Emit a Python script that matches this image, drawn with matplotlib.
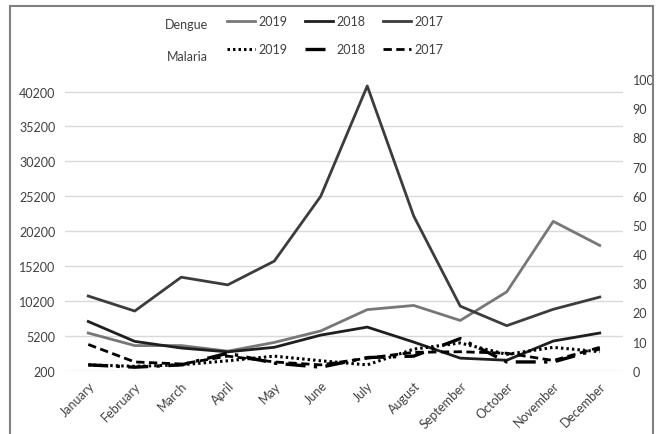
import numpy as np
import matplotlib.pyplot as plt
from matplotlib.lines import Line2D
from matplotlib.patches import Rectangle

plt.rcParams['font.family'] = ['Lato', 'DejaVu Sans']

# data
months = ['January', 'February', 'March', 'April', 'May', 'June', 'July',
          'August', 'September', 'October', 'November', 'December']
dengue_2019 = [5600, 3800, 3800, 3000, 4250, 5900, 8950, 9550, 7400, 11500, 21600, 18150]
dengue_2018 = [7250, 4400, 3450, 2900, 3550, 5300, 6450, 4300, 2000, 1700, 4450, 5600]
dengue_2017 = [10900, 8750, 13600, 12500, 15900, 25200, 41000, 22350, 9450, 6650, 9000, 10750]
malaria_2019 = [2, 1.5, 2, 3.4, 5, 3.4, 2, 7.4, 9.5, 5.6, 8, 6.5]
malaria_2018 = [2, 1.2, 2, 6, 2.6, 1.2, 4.5, 5, 11, 3, 3, 7.5]
malaria_2017 = [9, 3, 2.3, 5, 3, 2, 4.3, 6.3, 6.5, 6, 3.5, 8]
left_ticks = [200, 5200, 10200, 15200, 20200, 25200, 30200, 35200, 40200]
right_ticks = [0, 10, 20, 30, 40, 50, 60, 70, 80, 90, 100]

W, H = 660, 435
text_col = '#404040'
c19, c18, c17 = '#777777', '#1e1e1e', '#3c3c3c'
dot = (0, (0.8, 1.0))
dashdot = (0, (6, 2.5, 1, 2.5))
dash = (0, (3, 1.6))
fs = 9


def fx(x):
    return x / W


def fy(y):
    return 1 - y / H


fig = plt.figure(figsize=(W / 100, H / 100), dpi=100)
ax = fig.add_axes([fx(65), fy(371.7), fx(623) - fx(65), fy(80) - fy(371.7)])
ax2 = ax.twinx()

x = np.arange(len(months))
ax.plot(x, dengue_2019, color=c19, lw=2)
ax.plot(x, dengue_2018, color=c18, lw=2)
ax.plot(x, dengue_2017, color=c17, lw=2)
ax2.plot(x, malaria_2019, color='black', lw=2.2, ls=dot)
ax2.plot(x, malaria_2018, color='black', lw=2.4, ls=dashdot)
ax2.plot(x, malaria_2017, color='black', lw=2, ls=dash)

ax.set_xlim(-0.5, len(months) - 0.5)
ax.set_ylim(200, 42000)
ax2.set_ylim(0, 100)
ax.set_yticks(left_ticks)
ax.set_yticklabels([str(t) for t in left_ticks])
ax2.set_yticks(right_ticks)
ax.set_xticks(x)
ax.set_xticklabels(months, rotation=45, ha='right', rotation_mode='anchor')

ax.grid(axis='y', color='#d9d9d9', lw=1)
ax.set_axisbelow(True)
for a in (ax, ax2):
    for s in a.spines.values():
        s.set_visible(False)
    a.tick_params(length=0, labelsize=fs, colors=text_col)
ax.tick_params(axis='y', pad=7)
ax2.tick_params(axis='y', pad=7)
ax.tick_params(axis='x', pad=6)

# legend drawn by hand, two rows
fig.text(fx(187), fy(25), 'Dengue', ha='center', va='center', fontsize=fs, color=text_col)
fig.text(fx(187), fy(57), 'Malaria', ha='center', va='center', fontsize=fs, color=text_col)
rows = [(22, [(c19, 2, '-', '2019'), (c18, 2, '-', '2018'), (c17, 2, '-', '2017')]),
        (50, [('black', 2.2, dot, '2019'), ('black', 2.4, dashdot, '2018'), ('black', 2, dash, '2017')])]
starts = [227, 305, 383]
for y, items in rows:
    for x0, (col, lw, ls, lab) in zip(starts, items):
        fig.add_artist(Line2D([fx(x0), fx(x0 + 28)], [fy(y), fy(y)], color=col, lw=lw, ls=ls))
        fig.text(fx(x0 + 31), fy(y), lab, ha='left', va='center', fontsize=fs, color=text_col)

# outer frame
fig.add_artist(Rectangle((fx(10), fy(445)), fx(653) - fx(10), fy(7) - fy(445),
                         transform=fig.transFigure, fill=False, ec='#808080', lw=1.5))

fig.savefig('out.png', dpi=100)
